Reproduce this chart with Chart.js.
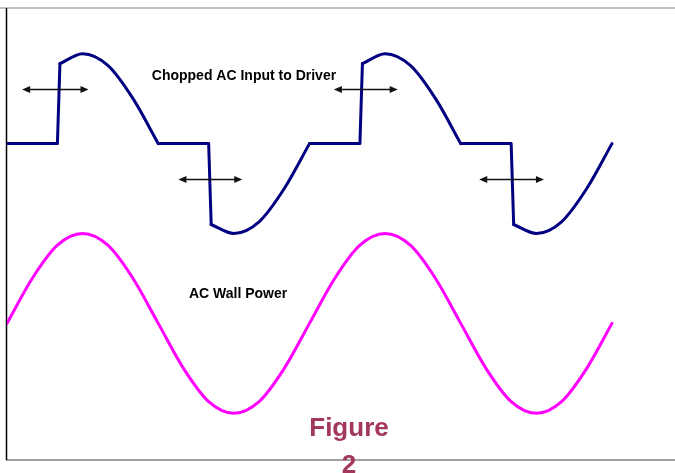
<!DOCTYPE html>
<html lang="en">
<head>
<meta charset="UTF-8">
<title>Chopped AC Input to Driver</title>
<script src="https://cdn.jsdelivr.net/npm/chart.js"></script>
<style>
  html, body { margin: 0; padding: 0; background: #fff; }
  #wrap { position: relative; width: 675px; height: 473px; overflow: hidden; }
  #caption {
    position: absolute; left: 300px; top: 409px; width: 98px;
    text-align: center; color: #a3385a;
    font: bold 26px "Liberation Sans", Arial, sans-serif;
    line-height: 37px;
  }
</style>
</head>
<body>
<div id="wrap">
  <canvas id="waveChart" width="675" height="473"></canvas>
  <div id="caption">Figure<br>2</div>
</div>
<script>
// x = phase in degrees, y = volts in units of the peak (wall trace sits one unit down, chopped trace one unit up)
const wallPhase = [0, 30, 60, 90, 120, 150, 180, 210, 240, 270, 300, 330, 360,
                   390, 420, 450, 480, 510, 540, 570, 600, 630, 660, 690, 720];
const wallPower = [-1, -0.5, -0.13, 0, -0.13, -0.5, -1, -1.5, -1.87, -2, -1.87, -1.5, -1,
                   -0.5, -0.13, 0, -0.13, -0.5, -1, -1.5, -1.87, -2, -1.87, -1.5, -1];

// sine parts of the chopped wave (null = break)
const arcPhase = [63, 90, 120, 150, 180, 210, 243, 270, 300, 330, 360, 390,
                  423, 450, 480, 510, 540, 570, 603, 630, 660, 690, 720];
const arcLevel = [1.89, 2.0, 1.87, 1.5, 1.0, null, 0.1, 0, 0.13, 0.5, 1.0, null,
                  1.89, 2.0, 1.87, 1.5, 1.0, null, 0.1, 0, 0.13, 0.5, 1.0];

// flat "off" parts and the switching edges
const stepPhase = [0, 60, 63, 120, 180, 240, 243, 300, 360, 420, 423, 480, 540, 600, 603];
const stepLevel = [1, 1, 1.89, null, 1, 1, 0.1, null, 1, 1, 1.89, null, 1, 1, 0.1];

// double-headed arrows showing the adjustable firing angle
const arrowFrom  = [18, 204, 389, 562];
const arrowTo    = [97, 280, 465, 639];
const arrowLevel = [1.61, 0.61, 1.61, 0.61];

const labelText  = ['Chopped AC Input to Driver', 'AC Wall Power'];
const labelPhase = [282, 275];
const labelLevel = [1.75, -0.68];

const toPoints = (xs, ys) => xs.map((x, i) => ({ x: x, y: ys[i] }));

const overlay = {
  id: 'overlay',
  beforeDatasetsDraw(chart) {
    const { ctx, chartArea: a, width } = chart;
    ctx.save();
    ctx.strokeStyle = '#c0c0c0';
    ctx.lineWidth = 2;
    ctx.beginPath(); ctx.moveTo(0, a.top + 1); ctx.lineTo(width, a.top + 1); ctx.stroke();
    ctx.strokeStyle = '#808080';
    ctx.lineWidth = 1.5;
    ctx.beginPath(); ctx.moveTo(a.left - 1, a.bottom); ctx.lineTo(width, a.bottom); ctx.stroke();
    ctx.strokeStyle = '#000';
    ctx.beginPath(); ctx.moveTo(a.left - 0.5, a.top + 1); ctx.lineTo(a.left - 0.5, a.bottom); ctx.stroke();
    ctx.restore();
  },
  afterDatasetsDraw(chart) {
    const { ctx } = chart;
    const xs = chart.scales.x, ys = chart.scales.y;
    ctx.save();
    ctx.strokeStyle = '#111';
    ctx.fillStyle = '#111';
    ctx.lineWidth = 1.5;
    arrowFrom.forEach((from, i) => {
      const x0 = xs.getPixelForValue(from);
      const x1 = xs.getPixelForValue(arrowTo[i]);
      const y = Math.round(ys.getPixelForValue(arrowLevel[i])) + 0.5;
      ctx.beginPath(); ctx.moveTo(x0 + 4, y); ctx.lineTo(x1 - 4, y); ctx.stroke();
      ctx.beginPath(); ctx.moveTo(x0, y); ctx.lineTo(x0 + 8, y - 3.5); ctx.lineTo(x0 + 8, y + 3.5); ctx.closePath(); ctx.fill();
      ctx.beginPath(); ctx.moveTo(x1, y); ctx.lineTo(x1 - 8, y - 3.5); ctx.lineTo(x1 - 8, y + 3.5); ctx.closePath(); ctx.fill();
    });
    ctx.fillStyle = '#000';
    ctx.font = 'bold 14px "Liberation Sans", Arial, sans-serif';
    ctx.textAlign = 'center';
    ctx.textBaseline = 'middle';
    labelText.forEach((t, i) => {
      ctx.fillText(t, xs.getPixelForValue(labelPhase[i]), ys.getPixelForValue(labelLevel[i]));
    });
    ctx.restore();
  }
};

const lineStyle = {
  borderWidth: 3,
  pointRadius: 0,
  borderCapStyle: 'round',
  borderJoinStyle: 'round',
  spanGaps: false,
  fill: false
};

new Chart(document.getElementById('waveChart'), {
  type: 'line',
  data: {
    datasets: [
      Object.assign({ label: 'AC Wall Power', data: toPoints(wallPhase, wallPower),
        borderColor: '#ff00ff', cubicInterpolationMode: 'monotone' }, lineStyle),
      Object.assign({ label: 'Chopped AC Input to Driver', data: toPoints(arcPhase, arcLevel),
        borderColor: '#000080', cubicInterpolationMode: 'monotone' }, lineStyle),
      Object.assign({ label: 'Chopped (off / edges)', data: toPoints(stepPhase, stepLevel),
        borderColor: '#000080', tension: 0 }, lineStyle)
    ]
  },
  options: {
    responsive: false,
    animation: false,
    layout: { padding: { left: 7, top: 7, right: 0, bottom: 13 } },
    plugins: { legend: { display: false }, tooltip: { enabled: false } },
    scales: {
      x: { type: 'linear', min: 0, max: 795, display: false },
      y: { min: -2.52, max: 2.52, display: false }
    }
  },
  plugins: [overlay]
});
</script>
</body>
</html>
